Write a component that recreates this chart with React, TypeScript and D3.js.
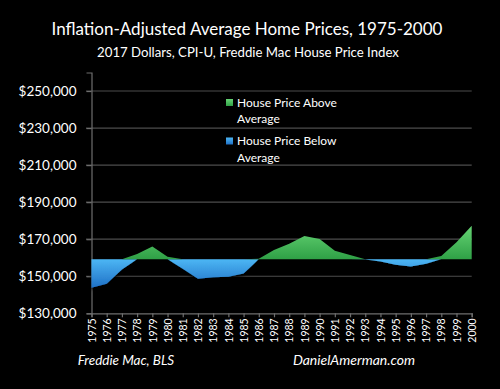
import { useEffect, useRef } from 'react';
import * as d3 from 'd3';

// values (2017 dollars)
const years = [1975, 1976, 1977, 1978, 1979, 1980, 1981, 1982, 1983, 1984, 1985, 1986, 1987,
    1988, 1989, 1990, 1991, 1992, 1993, 1994, 1995, 1996, 1997, 1998, 1999, 2000];
const prices = [143800, 146000, 153700, 162000, 166000, 160500, 154000, 148700, 149400, 149700,
    151500, 159400, 164200, 167500, 171700, 170100, 163800, 161500, 159000, 157900, 156200,
    155300, 156800, 161000, 168400, 177300];
const averagePrice = 159200;
const yTicks = [130000, 150000, 170000, 190000, 210000, 230000, 250000];
const legendLabels = [['House Price Above', 'Average'], ['House Price Below', 'Average']];

const W = 500;
const H = 389;
const FONT = 'Lato, "Open Sans", sans-serif';

const App = () => {
    const ref = useRef<SVGSVGElement>(null);

    useEffect(() => {
        const svg = d3.select(ref.current);
        svg.selectAll('*').remove();

        svg.append('rect').attr('width', W).attr('height', H).attr('fill', '#000');

        const defs = svg.append('defs');
        const greenGrad = defs.append('linearGradient').attr('id', 'greenGrad')
            .attr('x1', 0).attr('y1', 0).attr('x2', 0).attr('y2', 1);
        greenGrad.append('stop').attr('offset', '0%').attr('stop-color', '#66d474');
        greenGrad.append('stop').attr('offset', '100%').attr('stop-color', '#2fa046');
        const blueGrad = defs.append('linearGradient').attr('id', 'blueGrad')
            .attr('x1', 0).attr('y1', 0).attr('x2', 0).attr('y2', 1);
        blueGrad.append('stop').attr('offset', '0%').attr('stop-color', '#4cb6f4');
        blueGrad.append('stop').attr('offset', '100%').attr('stop-color', '#1f70c6');
        const shadow = defs.append('filter').attr('id', 'shadow')
            .attr('x', '-10%').attr('y', '-10%').attr('width', '120%').attr('height', '140%');
        shadow.append('feDropShadow').attr('dx', 0).attr('dy', 2).attr('stdDeviation', 1.5)
            .attr('flood-color', '#000').attr('flood-opacity', 0.9);

        // titles
        svg.append('text').attr('x', 247).attr('y', 35).attr('text-anchor', 'middle')
            .attr('fill', '#fff').style('font-family', FONT).style('font-size', '17px')
            .text('Inflation-Adjusted Average Home Prices, 1975-2000');
        svg.append('text').attr('x', 248).attr('y', 57).attr('text-anchor', 'middle')
            .attr('fill', '#fff').style('font-family', FONT).style('font-size', '13.2px')
            .text('2017 Dollars, CPI-U, Freddie Mac House Price Index');

        const xScale = d3.scaleLinear().domain([1975, 2000]).range([91.5, 471.7]);
        const yScale = d3.scaleLinear().domain([130000, 260000]).range([313.3, 72.5]);

        // gridlines
        svg.append('g')
            .selectAll('line')
            .data(yTicks.slice(1))
            .enter()
            .append('line')
            .attr('x1', 86).attr('x2', 471.7)
            .attr('y1', d => yScale(d)).attr('y2', d => yScale(d))
            .attr('stroke', '#4d4d4d').attr('stroke-width', 1.2);

        // y axis
        const yAxis = svg.append('g')
            .attr('transform', 'translate(91.5, 0)')
            .call(d3.axisLeft(yScale).tickValues(yTicks).tickSize(5).tickPadding(10)
                .tickFormat(d => `$${d3.format(',')(d as number)}`));
        yAxis.select('.domain').attr('stroke', '#6e6e6e').attr('stroke-width', 1.2);
        yAxis.selectAll('.tick line').attr('stroke', '#6e6e6e').attr('stroke-width', 1.2);
        yAxis.selectAll('.tick text').attr('fill', '#fff')
            .style('font-family', FONT).style('font-size', '13.5px');

        // areas
        const data = years.map((y, i) => ({ year: y, price: prices[i] }));
        const above = d3.area<{ year: number, price: number }>()
            .x(d => xScale(d.year))
            .y0(yScale(averagePrice))
            .y1(d => yScale(Math.max(d.price, averagePrice)));
        const below = d3.area<{ year: number, price: number }>()
            .x(d => xScale(d.year))
            .y0(yScale(averagePrice))
            .y1(d => yScale(Math.min(d.price, averagePrice)));
        svg.append('path').datum(data).attr('d', below)
            .attr('fill', 'url(#blueGrad)').attr('filter', 'url(#shadow)');
        svg.append('path').datum(data).attr('d', above)
            .attr('fill', 'url(#greenGrad)');

        // x axis
        const xAxis = svg.append('g')
            .attr('transform', 'translate(0, 313.3)')
            .call(d3.axisBottom(xScale).tickValues(years).tickSize(4).tickPadding(4)
                .tickFormat(d => String(d)));
        xAxis.select('.domain').attr('stroke', '#6e6e6e').attr('stroke-width', 1.2);
        xAxis.selectAll('.tick line').attr('stroke', '#6e6e6e').attr('stroke-width', 1.2);
        xAxis.selectAll('.tick text')
            .attr('fill', '#fff')
            .attr('transform', 'rotate(-90)')
            .attr('text-anchor', 'end')
            .attr('x', -5).attr('y', 0).attr('dy', '0.35em')
            .style('font-family', FONT).style('font-size', '10.5px');

        // legend
        const swatches = ['url(#greenGrad)', 'url(#blueGrad)'];
        legendLabels.forEach((lines, i) => {
            const top = 99 + i * 38.5;
            svg.append('rect').attr('x', 226).attr('y', top).attr('width', 7).attr('height', 7)
                .attr('fill', swatches[i]);
            const t = svg.append('text').attr('x', 237).attr('y', top + 7.5)
                .attr('fill', '#fff').style('font-family', FONT).style('font-size', '12px');
            lines.forEach((line, j) => {
                t.append('tspan').attr('x', 237).attr('dy', j === 0 ? 0 : 16.7).text(line);
            });
        });

        // sources
        svg.append('text').attr('x', 126).attr('y', 365).attr('text-anchor', 'middle')
            .attr('fill', '#fff').style('font-family', FONT).style('font-size', '13.5px')
            .style('font-style', 'italic').text('Freddie Mac, BLS');
        svg.append('text').attr('x', 354).attr('y', 365).attr('text-anchor', 'middle')
            .attr('fill', '#fff').style('font-family', FONT).style('font-size', '14px')
            .style('font-style', 'italic').text('DanielAmerman.com');
    }, []);

    return (
        <svg ref={ref} width={W} height={H}
            style={{ display: 'block', position: 'absolute', left: 0, top: 0 }}></svg>
    );
};

export default App;
